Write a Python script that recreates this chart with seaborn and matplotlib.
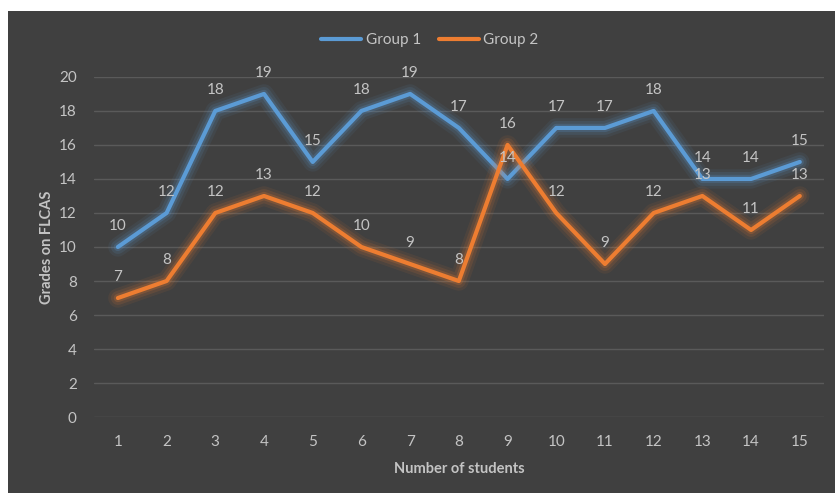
import pandas as pd
import seaborn as sns
import matplotlib.pyplot as plt
import matplotlib.patheffects as pe
from matplotlib.patches import Rectangle

students = list(range(1, 16))
group1 = [10, 12, 18, 19, 15, 18, 19, 17, 14, 17, 17, 18, 14, 14, 15]
group2 = [7, 8, 12, 13, 12, 10, 9, 8, 16, 12, 9, 12, 13, 11, 13]
y_ticks = [0, 2, 4, 6, 8, 10, 12, 14, 16, 18, 20]

df = pd.DataFrame({
    "student": students * 2,
    "grade": group1 + group2,
    "group": ["Group 1"] * 15 + ["Group 2"] * 15,
})

bg = "#404040"
txt = "#C4C4C4"
colors = {"Group 1": "#5B9BD5", "Group 2": "#ED7D31"}

sns.set_style("dark")
plt.rcParams["font.family"] = ["Lato", "DejaVu Sans"]

fig = plt.figure(figsize=(8.35, 4.93), dpi=100, facecolor="white")
fig.patches.append(Rectangle((8 / 835, 0), 1, 1 - 11 / 493, transform=fig.transFigure,
                             facecolor=bg, edgecolor="none", zorder=-10))
ax = fig.add_axes([0.112, 0.154, 0.875, 0.690])
ax.set_facecolor(bg)

sns.lineplot(data=df, x="student", y="grade", hue="group", palette=colors,
             linewidth=3, ax=ax, legend=False, zorder=3)

for line, name in zip(ax.lines, ["Group 1", "Group 2"]):
    c = colors[name]
    line.set_path_effects([
        pe.Stroke(linewidth=14, foreground=c, alpha=0.08),
        pe.Stroke(linewidth=10, foreground=c, alpha=0.12),
        pe.Stroke(linewidth=6, foreground=c, alpha=0.2),
        pe.Normal(),
    ])

for vals in (group1, group2):
    for x, v in zip(students, vals):
        ax.annotate(str(v), (x, v), xytext=(0, 10), textcoords="offset points",
                    ha="center", va="bottom", color=txt, fontsize=11, zorder=5)

ax.set_xlim(0.5, 15.5)
ax.set_ylim(0, 20)
ax.set_xticks(students)
ax.set_yticks(y_ticks)
ax.tick_params(axis="both", length=0, colors=txt, labelsize=11)
ax.tick_params(axis="x", pad=13)
ax.tick_params(axis="y", pad=12)
ax.grid(axis="y", color="#5A5A5A", linewidth=1)
ax.grid(axis="x", visible=False)
for s in ax.spines.values():
    s.set_visible(False)

ax.set_xlabel("Number of students", color=txt, fontsize=10.5, fontweight="bold", labelpad=9)
ax.set_ylabel("Grades on FLCAS", color=txt, fontsize=10.5, fontweight="bold", labelpad=4)

handles = [plt.Line2D([], [], color=colors[n], linewidth=3) for n in colors]
fig.legend(handles, list(colors), loc="center", bbox_to_anchor=(0.515, 0.919), ncol=2,
           frameon=False, labelcolor=txt, fontsize=11, handlelength=2.6,
           handletextpad=0.3, columnspacing=1.2)

fig.savefig("out.png", dpi=100, facecolor="white")
